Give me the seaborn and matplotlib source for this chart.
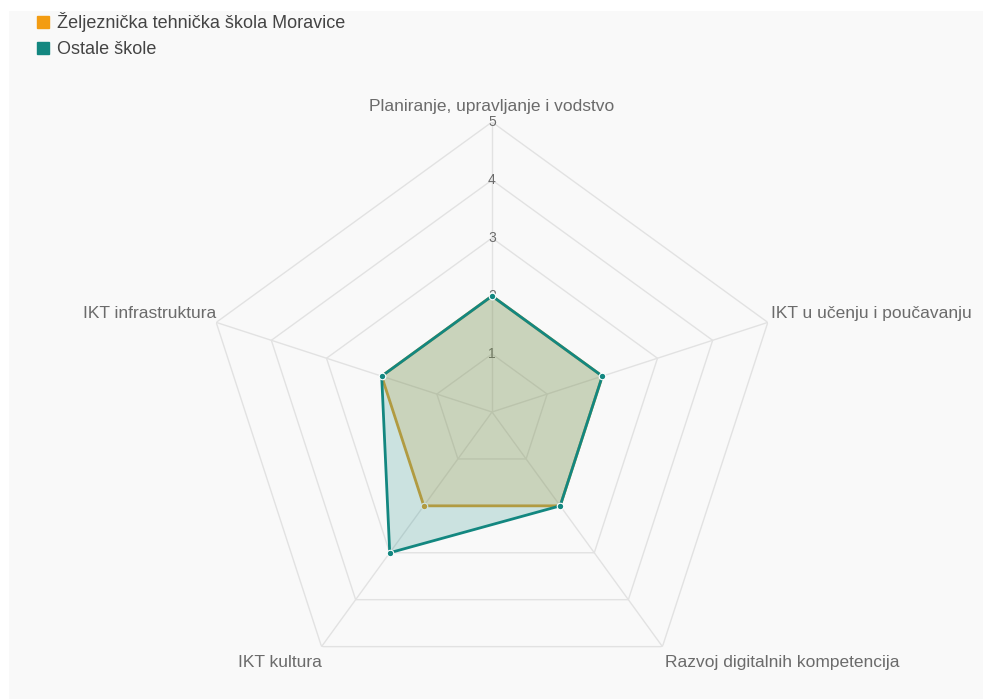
import numpy as np
import matplotlib
matplotlib.use("Agg")
import matplotlib.pyplot as plt
import seaborn as sns

# ── data ──────────────────────────────────────────────────────────────────────
categories = [
    "Planiranje, upravljanje i vodstvo",
    "IKT u učenju i poučavanju",
    "Razvoj digitalnih kompetencija",
    "IKT kultura",
    "IKT infrastruktura",
]
school_name = "Željeznička tehnička škola Moravice"
school_values = [2, 2, 2, 2, 2]
others_name = "Ostale škole"
others_values = [2, 2, 2, 3, 2]
ring_levels = [1, 2, 3, 4, 5]

ORANGE = "#f39c12"
ORANGE_LINE = "#d9a032"
TEAL = "#138780"
GRID = "#e2e2e2"
BG = "#f9f9f9"
TXT = "#6b6b6b"

sns.set_theme(style="white")
plt.rcParams["font.family"] = ["Liberation Sans", "DejaVu Sans"]

W, H = 985, 699
fig = plt.figure(figsize=(W / 100, H / 100), dpi=100, facecolor="white")

# light grey panel with a thin white margin at top/left
bg = fig.add_axes([9 / W, 0, (983 - 9) / W, (H - 11) / H], zorder=-1)
bg.set_facecolor(BG)
bg.set_xticks([])
bg.set_yticks([])
for s in bg.spines.values():
    s.set_visible(False)

cx, cy, rad = 492, 412, 290
ax = fig.add_axes([(cx - rad) / W, (H - cy - rad) / H, 2 * rad / W, 2 * rad / H],
                  projection="polar")
ax.set_facecolor("none")
ax.set_theta_offset(np.pi / 2)
ax.set_theta_direction(-1)
ax.set_ylim(0, 5)
ax.grid(False)
ax.spines["polar"].set_visible(False)
ax.set_xticks([])
ax.set_yticks([])

n = len(categories)
theta = np.linspace(0, 2 * np.pi, n, endpoint=False)
theta_c = np.append(theta, theta[0])

# polygon grid rings + spokes
for lvl in ring_levels:
    ax.plot(theta_c, [lvl] * (n + 1), color=GRID, lw=1, zorder=1)
for t in theta:
    ax.plot([t, t], [0, 5], color=GRID, lw=1, zorder=1)

# tick labels along the top spoke
for lvl in ring_levels:
    ax.text(0, lvl, str(lvl), ha="center", va="center", fontsize=10,
            color=TXT, zorder=2)

# series
for vals, line_c, fill_c, z in [
    (school_values, ORANGE_LINE, ORANGE, 3),
    (others_values, TEAL, TEAL, 4),
]:
    v = np.append(vals, vals[0])
    ax.fill(theta_c, v, color=fill_c, alpha=0.2, lw=0, zorder=z)
    ax.plot(theta_c, v, color=line_c, lw=2, zorder=z + 0.5)
    ax.scatter(theta, vals, s=22, color=line_c, edgecolor="white",
               linewidth=0.8, zorder=z + 0.6)

# category labels, placed relative to the outer ring vertices
label_style = [
    ("center", (0, 16)),
    ("left", (3, 9)),
    ("left", (3, -16)),
    ("right", (0, -16)),
    ("right", (0, 9)),
]
for t, cat, (ha, (dx, dy)) in zip(theta, categories, label_style):
    ax.annotate(cat, xy=(t, 5), xytext=(dx, dy), textcoords="offset pixels",
                ha=ha, va="center", fontsize=12.5, color=TXT,
                annotation_clip=False)

# legend
handles = [
    plt.Rectangle((0, 0), 1, 1, color=ORANGE),
    plt.Rectangle((0, 0), 1, 1, color=TEAL),
]
fig.legend(handles, [school_name, others_name], loc="upper left",
           bbox_to_anchor=(0.021, 1.006), frameon=False, fontsize=13,
           handlelength=0.65, handleheight=0.65, handletextpad=0.45,
           labelspacing=0.5, labelcolor="#444444")

fig.savefig("out.png", dpi=100, facecolor="white")
